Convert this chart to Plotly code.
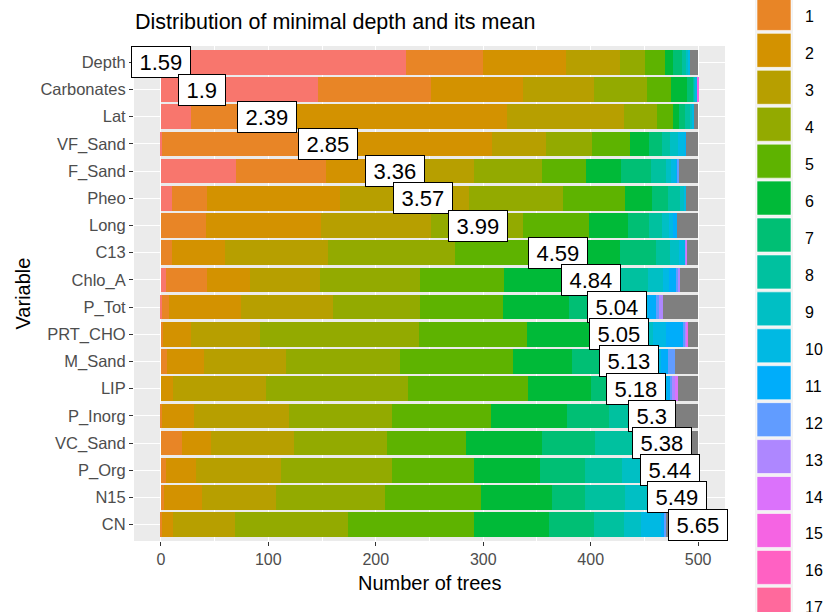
import math
import plotly.graph_objects as go

# ---------------- data ----------------
variables = ["Depth", "Carbonates", "Lat", "VF_Sand", "F_Sand", "Pheo", "Long", "C13",
             "Chlo_A", "P_Tot", "PRT_CHO", "M_Sand", "LIP", "P_Inorg", "VC_Sand",
             "P_Org", "N15", "CN"]
mean_min_depth = [1.59, 1.9, 2.39, 2.85, 3.36, 3.57, 3.99, 4.59, 4.84, 5.04, 5.05,
                  5.13, 5.18, 5.3, 5.38, 5.44, 5.49, 5.65]
depth_levels = [str(i) for i in range(18)] + ["NA"]

# number of trees per minimal depth (0..17, NA) for each variable
cnt_Depth = [228, 72, 77, 50, 24, 18, 8, 8, 4, 2, 1, 0, 0, 0, 0, 0, 0, 0, 8]
cnt_Carbonates = [146, 105, 86, 66, 49, 23, 15, 5, 2, 1, 1, 0, 0, 0, 0, 1, 0, 0, 0]
cnt_Lat = [28, 55, 239, 109, 31, 15, 5, 6, 4, 2, 2, 0, 0, 0, 0, 0, 0, 0, 4]
cnt_VF_Sand = [1, 157, 150, 50, 43, 36, 17, 12, 8, 7, 7, 1, 0, 0, 0, 0, 0, 0, 11]
cnt_F_Sand = [70, 84, 64, 73, 64, 41, 32, 28, 14, 5, 4, 2, 1, 0, 0, 0, 0, 0, 18]
cnt_Pheo = [10, 33, 124, 120, 87, 58, 25, 15, 11, 4, 2, 0, 0, 0, 0, 0, 0, 0, 11]
cnt_Long = [0, 42, 107, 102, 86, 61, 37, 19, 12, 7, 4, 3, 0, 0, 0, 0, 0, 0, 20]
cnt_C13 = [0, 10, 50, 96, 118, 83, 70, 34, 13, 8, 6, 0, 0, 1, 1, 0, 0, 0, 10]
cnt_Chlo_A = [5, 38, 40, 65, 93, 78, 70, 39, 25, 14, 6, 6, 2, 2, 0, 0, 0, 0, 17]
cnt_P_Tot = [1, 7, 67, 85, 81, 77, 62, 29, 23, 14, 7, 8, 3, 3, 0, 0, 0, 0, 33]
cnt_PRT_CHO = [0, 2, 26, 64, 148, 101, 67, 23, 19, 8, 12, 16, 2, 1, 1, 1, 0, 0, 9]
cnt_M_Sand = [0, 6, 34, 76, 107, 105, 55, 37, 21, 14, 10, 7, 6, 0, 0, 0, 0, 0, 22]
cnt_LIP = [0, 0, 11, 87, 132, 112, 58, 23, 25, 15, 8, 3, 2, 2, 3, 0, 0, 0, 19]
cnt_P_Inorg = [0, 1, 30, 88, 96, 92, 71, 39, 29, 14, 11, 8, 0, 0, 0, 0, 0, 0, 21]
cnt_VC_Sand = [0, 20, 27, 77, 86, 74, 71, 49, 42, 19, 14, 8, 4, 1, 0, 0, 0, 0, 8]
cnt_P_Org = [0, 5, 28, 79, 103, 76, 62, 42, 34, 26, 14, 9, 5, 0, 0, 0, 0, 0, 17]
cnt_N15 = [0, 3, 35, 69, 102, 89, 66, 31, 37, 20, 17, 9, 5, 0, 0, 0, 0, 0, 17]
cnt_CN = [0, 1, 10, 58, 105, 117, 70, 42, 28, 16, 18, 3, 2, 0, 0, 0, 0, 0, 30]

x_ticks = [0, 100, 200, 300, 400, 500]

counts = {
    "Depth": cnt_Depth, "Carbonates": cnt_Carbonates, "Lat": cnt_Lat,
    "VF_Sand": cnt_VF_Sand, "F_Sand": cnt_F_Sand, "Pheo": cnt_Pheo,
    "Long": cnt_Long, "C13": cnt_C13, "Chlo_A": cnt_Chlo_A, "P_Tot": cnt_P_Tot,
    "PRT_CHO": cnt_PRT_CHO, "M_Sand": cnt_M_Sand, "LIP": cnt_LIP,
    "P_Inorg": cnt_P_Inorg, "VC_Sand": cnt_VC_Sand, "P_Org": cnt_P_Org,
    "N15": cnt_N15, "CN": cnt_CN,
}


# ---------------- ggplot hue palette ----------------
def hcl_hex(h, c=100.0, l=65.0):
    Xn, Yn, Zn = 95.047, 100.0, 108.883
    hr = math.radians(h)
    U, V = c * math.cos(hr), c * math.sin(hr)
    Y = Yn * ((l + 16) / 116) ** 3 if l > 8 else Yn * l / 903.3
    t = Xn + 15 * Yn + 3 * Zn
    un, vn = 4 * Xn / t, 9 * Yn / t
    up, vp = U / (13 * l) + un, V / (13 * l) + vn
    X = 9.0 * Y * up / (4 * vp)
    Z = -X / 3 - 5 * Y + 3 * Y / vp
    x, y, z = X / 100, Y / 100, Z / 100
    rgb = [3.240479 * x - 1.537150 * y - 0.498535 * z,
           -0.969256 * x + 1.875992 * y + 0.041556 * z,
           0.055648 * x - 0.204043 * y + 1.057311 * z]
    out = []
    for v in rgb:
        v = 12.92 * v if v <= 0.0031308 else 1.055 * v ** (1 / 2.4) - 0.055
        out.append(int(round(min(max(v, 0), 1) * 255)))
    return "#%02X%02X%02X" % tuple(out)


n_lev = 18
palette = [hcl_hex(15 + 360 * i / n_lev) for i in range(n_lev)] + ["#7F7F7F"]

FONT = "Liberation Sans, Arial, sans-serif"
W, H = 825, 612
ML, MR, MT, MB = 134, 100, 46, 71
PW, PH = W - ML - MR, H - MT - MB


def px2x(px):
    return (px - ML) / PW


def py2y(py):
    return 1 - (py - MT) / PH


fig = go.Figure()
for i, lev in enumerate(depth_levels):
    fig.add_trace(go.Bar(
        y=variables, x=[counts[v][i] for v in variables], orientation="h",
        name=lev, marker=dict(color=palette[i], line=dict(width=0)),
        showlegend=False,
    ))

# mean labels
n_trees = max(sum(counts[v]) for v in variables)
mmin, mmax = min(mean_min_depth), max(mean_min_depth)
annotations = []
lab_fs = 22
for v, m in zip(variables, mean_min_depth):
    txt = f"{m:g}"
    tw = lab_fs * (0.556 * sum(ch.isdigit() for ch in txt) + 0.278 * txt.count("."))
    annotations.append(dict(
        x=(m - mmin) / (mmax - mmin) * n_trees, y=v, xref="x", yref="y",
        text=txt, showarrow=False, font=dict(family=FONT, size=lab_fs, color="black"),
        bgcolor="white", bordercolor="black", borderwidth=1, borderpad=3,
        width=tw + 9, height=24,
    ))

# axis titles
annotations.append(dict(x=0.5, y=py2y(583), xref="paper", yref="paper", text="Number of trees",
                        showarrow=False, font=dict(family=FONT, size=20, color="black"),
                        xanchor="center", yanchor="middle"))
annotations.append(dict(x=px2x(22), y=0.5, xref="paper", yref="paper", text="Variable",
                        showarrow=False, textangle=-90, font=dict(family=FONT, size=20, color="black"),
                        xanchor="center", yanchor="middle"))

# legend (manual, cropped at the page edges as in the reference)
shapes = [dict(type="rect", xref="paper", yref="paper", x0=px2x(755), x1=px2x(793),
               y0=py2y(-60), y1=py2y(640), fillcolor="#F2F2F2", line=dict(width=0), layer="above")]
pitch = 36.93
top0 = -40.5
for i, lev in enumerate(depth_levels):
    t = top0 + i * pitch
    if t + 34 < 0 or t > H:
        continue  # entirely outside the visible page
    shapes.append(dict(type="rect", xref="paper", yref="paper", x0=px2x(757), x1=px2x(791),
                       y0=py2y(t + 34), y1=py2y(t), fillcolor=palette[i],
                       line=dict(width=0.6, color="white"), layer="above"))
    annotations.append(dict(x=px2x(803), y=py2y(t + 20.5), xref="paper", yref="paper", text=lev,
                            showarrow=False, xanchor="left", yanchor="middle",
                            font=dict(family=FONT, size=16, color="black")))

fig.update_layout(
    width=W, height=H, autosize=False,
    margin=dict(l=ML, r=MR, t=MT, b=MB, pad=0),
    paper_bgcolor="white", plot_bgcolor="#EBEBEB",
    barmode="stack", bargap=0.1,
    font=dict(family=FONT),
    title=dict(text="Distribution of minimal depth and its mean", x=px2x(135), xref="paper",
               xanchor="left", y=1 - 21 / H, yref="container", yanchor="middle",
               font=dict(family=FONT, size=21.5, color="black")),
    xaxis=dict(range=[-25, 525], tickvals=x_ticks, ticktext=[str(t) for t in x_ticks],
               ticks="outside", ticklen=4, tickwidth=1, tickcolor="#333333",
               tickfont=dict(family=FONT, size=16, color="#4D4D4D"),
               showgrid=True, gridcolor="white", gridwidth=1.1, zeroline=False, showline=False,
               minor=dict(tickvals=[50, 150, 250, 350, 450], showgrid=True, gridcolor="white",
                          gridwidth=0.55, ticks="")),
    yaxis=dict(type="category", categoryorder="array", categoryarray=variables,
               range=[17.6, -0.6], ticks="outside", ticklen=4, tickwidth=1, tickcolor="#333333",
               tickfont=dict(family=FONT, size=16.5, color="#4D4D4D"),
               showgrid=True, gridcolor="white", gridwidth=1.1, zeroline=False, showline=False),
    annotations=annotations,
    shapes=shapes,
)

fig.write_html("out.html")
